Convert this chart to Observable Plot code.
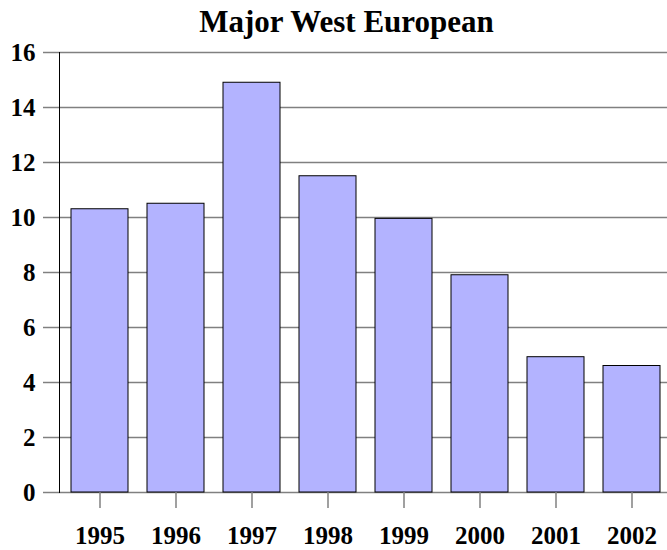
<!DOCTYPE html>
<html>
<head>
<meta charset="utf-8">
<script src="https://cdn.jsdelivr.net/npm/d3@7"></script>
<script src="https://cdn.jsdelivr.net/npm/@observablehq/plot@0.6"></script>
<style>
  html, body { margin: 0; padding: 0; background: #fff; }
  #wrap { width: 667px; height: 550px; overflow: hidden; position: relative; }
  #title { height: 40px; line-height: 44px; text-align: center; font-family: "Liberation Serif", "Times New Roman", serif; font-weight: bold; font-size: 31px; color: #000; padding-left: 26px; white-space: nowrap; }
  #chart svg { display: block; max-width: none !important; }
</style>
</head>
<body>
<div id="wrap">
  <div id="title">Major West European</div>
  <div id="chart"></div>
</div>
<script>
const years = ["1995", "1996", "1997", "1998", "1999", "2000", "2001", "2002"];
const values = [10.3, 10.5, 14.9, 11.5, 9.95, 7.9, 4.92, 4.6];
const yTicks = [0, 2, 4, 6, 8, 10, 12, 14, 16];

const data = years.map((y, i) => ({year: y, value: values[i]}));
const serif = "Liberation Serif, Times New Roman, serif";

const chart = Plot.plot({
  width: 672,
  height: 510,
  marginLeft: 59,
  marginRight: 0,
  marginTop: 12,
  marginBottom: 58,
  style: {background: "#fff", maxWidth: "none", color: "#000", fontFamily: serif, fontSize: "25px", fontWeight: "bold"},
  x: {type: "band", domain: years, paddingInner: 0.25, paddingOuter: 0.125, label: null},
  y: {domain: [0, 16], label: null},
  marks: [
    Plot.gridY(yTicks, {stroke: "#808080", strokeOpacity: 1, strokeWidth: 1.5}),
    Plot.axisY(yTicks, {tickSize: 16, tickPadding: 8, stroke: "#808080", strokeWidth: 1.5, fill: "#000", label: null, fontFamily: serif, fontSize: 25, fontWeight: "bold"}),
    Plot.frame({anchor: "left", stroke: "#000", strokeWidth: 1}),
    Plot.barY(data, {x: "year", y: "value", fill: "#b3b3ff", stroke: "#000", strokeWidth: 1}),
    Plot.axisX({tickSize: 16, tickPadding: 18, stroke: "#808080", strokeWidth: 1.5, fill: "#000", label: null, fontFamily: serif, fontSize: 25, fontWeight: "bold"})
  ]
});
d3.select(chart).selectAll("text")
  .attr("font-family", serif)
  .attr("font-size", 25)
  .attr("font-weight", "bold");
document.getElementById("chart").appendChild(chart);
</script>
</body>
</html>
